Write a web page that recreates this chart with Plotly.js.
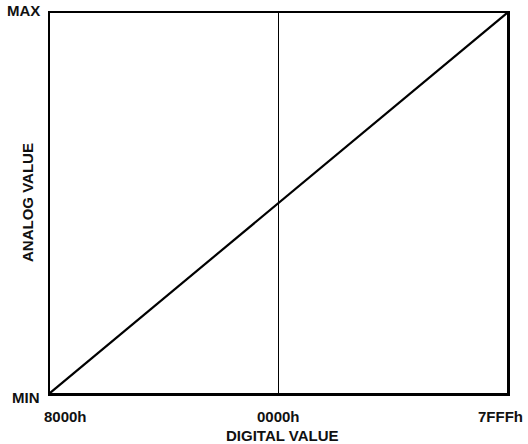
<!DOCTYPE html>
<html>
<head>
<meta charset="utf-8">
<script src="https://cdn.plot.ly/plotly-3.0.1.min.js"></script>
<style>html,body{margin:0;padding:0;background:#fff;}#chart{width:528px;height:444px;}</style>
</head>
<body>
<div id="chart"></div>
<script>
// Data
var digitalCodes = [-32768, 32767];      // 8000h .. 7FFFh (two's complement)
var analogValues = [0, 1];               // MIN .. MAX
var midCode = [0, 0];                    // 0000h marker
var midRange = [0, 1];
var xTickVals = [-32768, 0, 32767];
var xTickText = ["8000h", "0000h", "7FFFh"];
var yTickVals = [0, 1];
var yTickText = ["MIN", "MAX"];
var xTitle = "DIGITAL VALUE";
var yTitle = "ANALOG VALUE";

var font = {family: "Liberation Sans, Arial, sans-serif", size: 15, color: "#111"};

var traces = [
  {x: midCode, y: midRange, mode: "lines", line: {color: "#000", width: 1}, hoverinfo: "skip"},
  {x: digitalCodes, y: analogValues, mode: "lines", line: {color: "#000", width: 2.2}, hoverinfo: "skip"}
];

var annotations = [];
var xShifts = [15, 0, -7];
for (var i = 0; i < xTickVals.length; i++) {
  annotations.push({x: xTickVals[i], y: 0, xref: "x", yref: "paper", text: "<b>" + xTickText[i] + "</b>",
    showarrow: false, yshift: -23, xshift: xShifts[i], font: font, xanchor: "center", yanchor: "middle"});
}
var yShifts = [-4, 3];
for (var j = 0; j < yTickVals.length; j++) {
  annotations.push({x: 0, y: yTickVals[j], xref: "paper", yref: "y", text: "<b>" + yTickText[j] + "</b>",
    showarrow: false, xshift: -8, yshift: yShifts[j], font: font, xanchor: "right", yanchor: "middle"});
}
annotations.push({x: 0.5, y: 0, xref: "paper", yref: "paper", text: "<b>" + xTitle + "</b>", showarrow: false,
  yshift: -42, xshift: 4, font: font, xanchor: "center", yanchor: "middle"});
annotations.push({x: 0, y: 0.5, xref: "paper", yref: "paper", text: "<b>" + yTitle + "</b>", showarrow: false,
  xshift: -23, textangle: -90, font: font, xanchor: "center", yanchor: "middle"});

var layout = {
  width: 528, height: 444,
  margin: {l: 50, r: 21, t: 13, b: 51},
  paper_bgcolor: "#fff", plot_bgcolor: "#fff",
  showlegend: false,
  xaxis: {range: [digitalCodes[0], digitalCodes[1]], showgrid: false, zeroline: false, showticklabels: false,
    ticks: "", showline: true, mirror: true, linecolor: "#000", linewidth: 2.5, fixedrange: true},
  yaxis: {range: [analogValues[0], analogValues[1]], showgrid: false, zeroline: false, showticklabels: false,
    ticks: "", showline: true, mirror: true, linecolor: "#000", linewidth: 2.5, fixedrange: true},
  annotations: annotations
};

Plotly.newPlot("chart", traces, layout, {displayModeBar: false, staticPlot: true});
</script>
</body>
</html>
